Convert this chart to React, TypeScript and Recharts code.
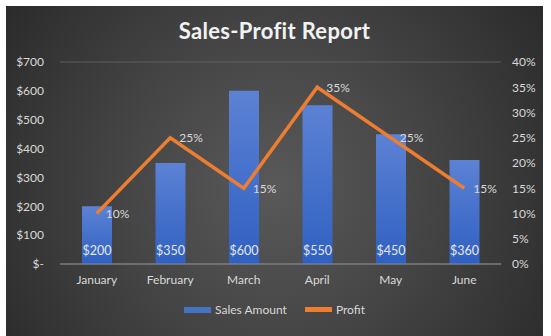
import { ComposedChart, Bar, Line, XAxis, YAxis, CartesianGrid, LabelList } from 'recharts';

const months = ['January', 'February', 'March', 'April', 'May', 'June'];
const salesAmount = [200, 350, 600, 550, 450, 360];
const profit = [0.1, 0.25, 0.15, 0.35, 0.25, 0.15];
const salesTicks = [0, 100, 200, 300, 400, 500, 600, 700];
const profitTicks = [0, 0.05, 0.1, 0.15, 0.2, 0.25, 0.3, 0.35, 0.4];

const data = months.map((m, i) => ({ month: m, sales: salesAmount[i], profit: profit[i] }));

const FONT = 'Lato, "Open Sans", sans-serif';
const TEXT = '#d9d9d9';

const money = (v: number) => (v === 0 ? '$-' : `$${v}`);
const pct = (v: number) => `${Math.round(v * 100)}%`;

export default function App() {
  return (
    <div style={{ position: 'absolute', left: 0, top: 0, width: 551, height: 336, background: '#fff' }}>
      <div
        style={{
          position: 'absolute',
          left: 6,
          top: 6,
          width: 537,
          height: 330,
          background: 'radial-gradient(circle at 50% 55%, #595959 0%, #464646 45%, #2b2b2b 100%)',
          fontFamily: FONT,
        }}
      >
        <div
          style={{
            position: 'absolute',
            top: 11,
            width: '100%',
            textAlign: 'center',
            color: '#f2f2f2',
            fontSize: 22,
            fontWeight: 700,
            letterSpacing: 0.3,
          }}
        >
          Sales-Profit Report
        </div>
        <ComposedChart width={537} height={330} data={data} margin={{ top: 56, right: 0, left: 0, bottom: 0 }}>
          <defs>
            <linearGradient id="barFill" x1="0" y1="0" x2="0" y2="1">
              <stop offset="0%" stopColor="#5c82d4" />
              <stop offset="100%" stopColor="#2f60c2" />
            </linearGradient>
          </defs>
          <CartesianGrid vertical={false} stroke="#5e5e5e" />
          <XAxis
            dataKey="month"
            height={72}
            tickLine={false}
            axisLine={{ stroke: '#8c8c8c' }}
            tickMargin={5}
            tick={{ fill: TEXT, fontSize: 12, fontFamily: FONT }}
          />
          <YAxis
            yAxisId="left"
            width={54}
            domain={[0, 700]}
            ticks={salesTicks}
            tickFormatter={money}
            axisLine={false}
            tickLine={false}
            tickMargin={10}
            tick={{ fill: TEXT, fontSize: 12, fontFamily: FONT }}
          />
          <YAxis
            yAxisId="right"
            orientation="right"
            width={42}
            domain={[0, 0.4]}
            ticks={profitTicks}
            tickFormatter={pct}
            axisLine={false}
            tickLine={false}
            tickMargin={5}
            tick={{ fill: TEXT, fontSize: 12, fontFamily: FONT }}
          />
          <Bar yAxisId="left" dataKey="sales" fill="url(#barFill)" barSize={30} isAnimationActive={false}>
            <LabelList
              dataKey="sales"
              position="insideBottom"
              offset={9}
              formatter={(v: any) => `$${v}`}
              style={{ fill: '#e8e8e8', fontSize: 12.5, fontFamily: FONT }}
            />
          </Bar>
          <Line
            yAxisId="right"
            dataKey="profit"
            stroke="#ed7d31"
            strokeWidth={3.5}
            dot={false}
            isAnimationActive={false}
          >
            <LabelList
              dataKey="profit"
              position="right"
              offset={9}
              formatter={(v: any) => pct(v)}
              style={{ fill: TEXT, fontSize: 12, fontFamily: FONT }}
            />
          </Line>
        </ComposedChart>
        <div
          style={{
            position: 'absolute',
            top: 296,
            left: 0,
            width: '100%',
            display: 'flex',
            justifyContent: 'center',
            alignItems: 'center',
            gap: 18,
            color: TEXT,
            fontSize: 12,
          }}
        >
          <div style={{ display: 'flex', alignItems: 'center', gap: 4 }}>
            <div style={{ width: 27, height: 6, background: '#4472c4' }} />
            <span>Sales Amount</span>
          </div>
          <div style={{ display: 'flex', alignItems: 'center', gap: 4 }}>
            <div style={{ width: 27, height: 5, background: '#ed7d31' }} />
            <span>Profit</span>
          </div>
        </div>
      </div>
    </div>
  );
}
